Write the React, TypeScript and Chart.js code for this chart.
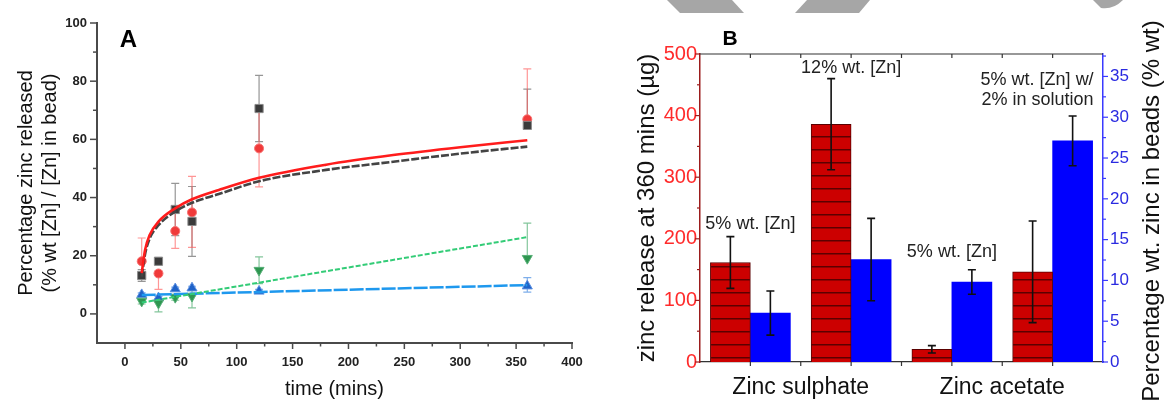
import React, { useEffect, useRef } from 'react';
import { Chart, registerables } from 'chart.js';

Chart.register(...registerables);

const FONT = "'Liberation Sans', Arial, Helvetica, sans-serif";

// ---------------- Panel A : release over time ----------------
const sampleTimes = [15, 30, 45, 60, 120, 360];

const squareSeries = [13.2, 18.1, 35.9, 31.8, 70.6, 64.8];
const squareErrUp = [2, 0, 9, 12, 11.4, 12.5];
const squareErrDown = [2, 0, 9, 12, 11.4, 0];

const circleSeries = [18.1, 13.9, 28.5, 34.9, 56.9, 66.9];
const circleErrUp = [8, 0, 7, 12.4, 13.2, 17.3];
const circleErrDown = [0, 5.5, 6, 12, 13.2, 0];

const downTriSeries = [4.4, 3.7, 5.7, 6.1, 15.0, 19.1];
const downTriErrUp = [0, 0, 1, 2, 4.6, 12.1];
const downTriErrDown = [1, 3, 1, 4, 4.6, 0];

const upTriSeries = [6.6, 5.5, 8.6, 8.9, 7.8, 9.6];
const upTriErrUp = [0.6, 0.5, 0.6, 0.6, 0.6, 2.9];
const upTriErrDown = [0.6, 0.5, 0.6, 0.6, 0.6, 2.1];

// fitted curves
const curveTimes = [15, 18, 22, 30, 45, 60, 84, 120, 180, 240, 300, 360];
const circleFit = [14, 22, 27, 31.7, 36.3, 39.4, 42.6, 46.8, 51.3, 54.6, 57.3, 59.7];
const squareFit = [12.8, 20.5, 25.8, 30.5, 35.2, 38.2, 41.2, 45.6, 49.5, 52.3, 55.1, 57.5];
const lineTimes = [15, 360];
const downTriFit = [3.9, 26.4];
const upTriFit = [6.5, 9.9];

// ---------------- Panel B : release at 360 mins ----------------
const categories = ['Zinc sulphate', 'Zinc acetate'];
const groupNotes = [['5% wt. [Zn]'], ['12% wt. [Zn]'], ['5% wt. [Zn]'], ['5% wt. [Zn] w/', '2% in solution']];
const releaseUg = [161.5, 386, 20.6, 146.5];
const releaseErr = [42, 74, 6, 82.5];
const zincInBeads = [6.0, 12.55, 9.8, 27.1];
const zincInBeadsErr = [2.7, 5.05, 1.5, 3.05];

const pts = (xs: number[], ys: number[]) => xs.map((x, i) => ({ x, y: ys[i] }));
const groupPos = (i: number) => 2 * i + 1;

function errorBarPlugin(id: string, hook: string, capHalf: number, lineWidth: number) {
  return {
    id,
    [hook](chart: any) {
      const ctx = chart.ctx;
      chart.data.datasets.forEach((ds: any, di: number) => {
        if (!ds.errUp) return;
        const meta = chart.getDatasetMeta(di);
        const ys = chart.scales[meta.yAxisID];
        ctx.save();
        ctx.strokeStyle = ds.errColor;
        ctx.lineWidth = lineWidth;
        meta.data.forEach((el: any, i: number) => {
          const raw = ds.data[i];
          const v = typeof raw === 'number' ? raw : raw.y;
          const up = ds.errUp[i] || 0;
          const dn = ds.errDown[i] || 0;
          if (!up && !dn) return;
          const x = el.x;
          const yt = ys.getPixelForValue(v + up);
          const yb = ys.getPixelForValue(v - dn);
          ctx.beginPath();
          ctx.moveTo(x, yt);
          ctx.lineTo(x, yb);
          if (up) { ctx.moveTo(x - capHalf, yt); ctx.lineTo(x + capHalf, yt); }
          if (dn) { ctx.moveTo(x - capHalf, yb); ctx.lineTo(x + capHalf, yb); }
          ctx.stroke();
        });
        ctx.restore();
      });
    },
  };
}

function line(ctx: any, x1: number, y1: number, x2: number, y2: number) {
  ctx.beginPath();
  ctx.moveTo(x1, y1);
  ctx.lineTo(x2, y2);
  ctx.stroke();
}

function makeHatch(): any {
  const c = document.createElement('canvas');
  c.width = 8;
  c.height = 13;
  const g = c.getContext('2d');
  if (!g) return '#cc0000';
  g.fillStyle = '#cc0000';
  g.fillRect(0, 0, 8, 13);
  g.fillStyle = '#5c0000';
  g.fillRect(0, 6, 8, 1.5);
  return g.createPattern(c, 'repeat') || '#cc0000';
}

export default function App() {
  const refA = useRef<HTMLCanvasElement | null>(null);
  const refB = useRef<HTMLCanvasElement | null>(null);

  useEffect(() => {
    if (!refA.current || !refB.current) return;

    // ---------- Chart A ----------
    const ticksA = {
      id: 'ticksA',
      afterDraw(chart: any) {
        const { ctx, chartArea: ca, scales } = chart;
        ctx.save();
        ctx.strokeStyle = '#4a4a4a';
        ctx.lineWidth = 1.5;
        scales.x.ticks.forEach((t: any) => {
          if (t.value <= -25) return;
          const p = scales.x.getPixelForValue(t.value);
          line(ctx, p, ca.bottom, p, ca.bottom + (t.value % 50 === 0 ? 6 : 3.5));
        });
        scales.y.ticks.forEach((t: any) => {
          if (t.value <= -10) return;
          const p = scales.y.getPixelForValue(t.value);
          line(ctx, ca.left, p, ca.left - (t.value % 20 === 0 ? 7 : 4), p);
        });
        ctx.fillStyle = '#000';
        ctx.font = `bold 24px ${FONT}`;
        ctx.textAlign = 'center';
        ctx.textBaseline = 'middle';
        ctx.fillText('A', 128.5, 40);
        ctx.restore();
      },
    };

    const fitBase = { showLine: true, pointRadius: 0, pointHoverRadius: 0, fill: false };
    const chartA = new Chart(refA.current, {
      type: 'scatter',
      data: {
        datasets: [
          { ...fitBase, label: 'fit circles', data: pts(curveTimes, circleFit), borderColor: '#ff1c1c', borderWidth: 2.6, cubicInterpolationMode: 'monotone', order: 0 },
          { ...fitBase, label: 'fit squares', data: pts(curveTimes, squareFit), borderColor: '#444444', borderWidth: 2.6, borderDash: [8, 2], cubicInterpolationMode: 'monotone', order: 1 },
          { ...fitBase, label: 'fit down triangles', data: pts(lineTimes, downTriFit), borderColor: '#33cc77', borderWidth: 2, borderDash: [5, 2], order: 2 },
          { ...fitBase, label: 'fit up triangles', data: pts(lineTimes, upTriFit), borderColor: '#1e98ee', borderWidth: 2.5, borderDash: [14, 2], order: 3 },
          {
            label: 'squares', data: pts(sampleTimes, squareSeries), pointStyle: 'rect', pointRadius: 5.8,
            pointBackgroundColor: '#3a3a3a', pointBorderColor: '#8a8a8a', pointBorderWidth: 1, order: 10,
            errUp: squareErrUp, errDown: squareErrDown, errColor: 'rgba(80,80,80,0.6)',
          },
          {
            label: 'circles', data: pts(sampleTimes, circleSeries), pointStyle: 'circle', pointRadius: 4.5,
            pointBackgroundColor: '#f03a3a', pointBorderColor: '#f77070', pointBorderWidth: 1, order: 11,
            errUp: circleErrUp, errDown: circleErrDown, errColor: 'rgba(255,80,80,0.6)',
          },
          {
            label: 'down triangles', data: pts(sampleTimes, downTriSeries), pointStyle: 'triangle', pointRotation: 180, pointRadius: 5.8,
            pointBackgroundColor: '#2e9650', pointBorderColor: '#58b078', pointBorderWidth: 1, order: 12,
            errUp: downTriErrUp, errDown: downTriErrDown, errColor: 'rgba(50,160,90,0.6)',
          },
          {
            label: 'up triangles', data: pts(sampleTimes, upTriSeries), pointStyle: 'triangle', pointRadius: 5.8,
            pointBackgroundColor: '#1f62c8', pointBorderColor: '#5b8ee0', pointBorderWidth: 1, order: 13,
            errUp: upTriErrUp, errDown: upTriErrDown, errColor: 'rgba(40,120,220,0.6)',
          },
        ] as any,
      },
      options: {
        responsive: false,
        animation: false,
        devicePixelRatio: 1,
        layout: { padding: { top: 23, right: 13, left: 0, bottom: 0 } },
        plugins: { legend: { display: false }, tooltip: { enabled: false } },
        scales: {
          x: {
            type: 'linear', min: -25, max: 400,
            afterFit: (s: any) => { s.height = 58; s.paddingLeft = 0; s.paddingRight = 0; },
            grid: { display: false, drawTicks: false },
            border: { color: '#4a4a4a', width: 2 },
            ticks: {
              stepSize: 25, autoSkip: false, maxRotation: 0, padding: 12, color: '#222',
              font: { family: FONT, size: 13, weight: 'bold' },
              callback: (v: any) => (v >= 0 && v % 50 === 0 ? String(v) : ''),
            },
            title: { display: true, text: 'time (mins)', color: '#111', font: { family: FONT, size: 20 }, padding: { top: 0, bottom: 0 } },
          },
          y: {
            type: 'linear', min: -10, max: 100,
            afterFit: (s: any) => { s.width = 97; s.paddingTop = 0; s.paddingBottom = 0; },
            grid: { display: false, drawTicks: false },
            border: { color: '#4a4a4a', width: 2 },
            ticks: {
              stepSize: 10, autoSkip: false, padding: 10, color: '#222',
              font: { family: FONT, size: 13, weight: 'bold' },
              callback: (v: any) => (v >= 0 && v % 20 === 0 ? String(v) : ''),
            },
            title: {
              display: true, text: ['Percentage zinc released', '(% wt [Zn] / [Zn] in bead)'], color: '#111',
              font: { family: FONT, size: 20 }, padding: { top: 14, bottom: 0 },
            },
          },
        },
      } as any,
      plugins: [errorBarPlugin('errA', 'beforeDatasetsDraw', 4, 1.2), ticksA] as any,
    });

    // ---------- Chart B ----------
    const decorB = {
      id: 'decorB',
      afterDraw(chart: any) {
        const { ctx, chartArea: ca, scales } = chart;
        ctx.save();
        // top frame line and tick marks
        ctx.strokeStyle = '#333';
        ctx.lineWidth = 1.2;
        line(ctx, ca.left, ca.top, ca.right, ca.top);
        scales.x.ticks.forEach((t: any) => {
          if (t.value <= 0 || t.value >= 8) return;
          const p = scales.x.getPixelForValue(t.value);
          line(ctx, p, ca.bottom, p, ca.bottom + 4);
          line(ctx, p, ca.top, p, ca.top + 4);
        });
        ctx.strokeStyle = '#9b1c1c';
        scales.y.ticks.forEach((t: any) => {
          const p = scales.y.getPixelForValue(t.value);
          line(ctx, ca.left, p, ca.left - (t.value % 100 === 0 ? 5 : 3), p);
        });
        ctx.strokeStyle = '#3a3aff';
        scales.y1.ticks.forEach((t: any) => {
          const p = scales.y1.getPixelForValue(t.value);
          line(ctx, ca.right, p, ca.right + (t.value % 5 === 0 ? 5 : 3), p);
        });

        // notes above bar groups
        const noteY = [224, 477, 179, 458];
        ctx.fillStyle = '#222';
        ctx.font = `18px ${FONT}`;
        ctx.textBaseline = 'middle';
        const blueMeta = chart.getDatasetMeta(1);
        groupNotes.forEach((lines, i) => {
          const yp = scales.y.getPixelForValue(noteY[i]);
          if (lines.length > 1) {
            const el = blueMeta.data[i];
            ctx.textAlign = 'right';
            lines.forEach((s, k) => ctx.fillText(s, el.x + el.width / 2 + 1, yp + k * 20));
          } else {
            ctx.textAlign = 'center';
            ctx.fillText(lines[0], scales.x.getPixelForValue(groupPos(i)), yp);
          }
        });

        // right axis title (reads bottom to top)
        ctx.save();
        ctx.translate(567, 211);
        ctx.rotate(-Math.PI / 2);
        ctx.fillStyle = '#111';
        ctx.font = `24px ${FONT}`;
        ctx.textAlign = 'center';
        ctx.textBaseline = 'middle';
        ctx.fillText('Percentage wt. zinc in beads (% wt)', 0, 0);
        ctx.restore();

        // panel letter
        ctx.fillStyle = '#000';
        ctx.font = `bold 21px ${FONT}`;
        ctx.textAlign = 'center';
        ctx.textBaseline = 'middle';
        ctx.fillText('B', 145, 39);

        // grey page decorations at the top edge
        ctx.fillStyle = '#a6a6a6';
        const polys = [
          [[82, 0], [147, 0], [159, 13], [95, 13]],
          [[222, 0], [285, 0], [274, 13], [210, 13]],
        ];
        polys.forEach((pg) => {
          ctx.beginPath();
          pg.forEach(([x, y], k) => (k ? ctx.lineTo(x, y) : ctx.moveTo(x, y)));
          ctx.closePath();
          ctx.fill();
        });
        ctx.beginPath();
        ctx.moveTo(508, 0);
        ctx.lineTo(538, 0);
        ctx.quadraticCurveTo(528, 10, 516, 8);
        ctx.closePath();
        ctx.fill();
        ctx.restore();
      },
    };

    const chartB = new Chart(refB.current, {
      type: 'bar',
      data: {
        datasets: [
          {
            label: 'zinc release at 360 mins (µg)',
            data: releaseUg.map((y, i) => ({ x: groupPos(i), y })),
            yAxisID: 'y', backgroundColor: makeHatch(), borderColor: '#5a0000', borderWidth: 1, barThickness: 40,
            errUp: releaseErr, errDown: releaseErr, errColor: '#111',
          },
          {
            label: 'Percentage wt. zinc in beads (% wt)',
            data: zincInBeads.map((y, i) => ({ x: groupPos(i), y })),
            yAxisID: 'y1', backgroundColor: '#0000ff', borderWidth: 0, barThickness: 40,
            errUp: zincInBeadsErr, errDown: zincInBeadsErr, errColor: '#111',
          },
        ] as any,
      },
      options: {
        responsive: false,
        animation: false,
        devicePixelRatio: 1,
        layout: { padding: { top: 54, right: 0, left: 0, bottom: 0 } },
        plugins: { legend: { display: false }, tooltip: { enabled: false } },
        scales: {
          x: {
            type: 'linear', min: 0, max: 8, offset: false,
            afterFit: (s: any) => { s.height = 39; s.paddingLeft = 0; s.paddingRight = 0; },
            grid: { display: false, drawTicks: false, offset: false },
            border: { color: '#333', width: 1.2 },
            ticks: {
              stepSize: 1, autoSkip: false, maxRotation: 0, padding: 12, color: '#111',
              font: { family: FONT, size: 23 },
              callback: (v: any) => {
                const k = (v - 2) / 4;
                return Number.isInteger(k) && categories[k] ? categories[k] : '';
              },
            },
          },
          y: {
            type: 'linear', position: 'left', min: 0, max: 500,
            afterFit: (s: any) => { s.width = 115; s.paddingTop = 0; s.paddingBottom = 0; },
            grid: { display: false, drawTicks: false },
            border: { color: '#9b1c1c', width: 1.5 },
            ticks: {
              stepSize: 50, autoSkip: false, padding: 3, color: '#ff2b2b',
              font: { family: FONT, size: 20 },
              callback: (v: any) => (v % 100 === 0 ? String(v) : ''),
            },
            title: {
              display: true, text: 'zinc release at 360 mins (µg)', color: '#111',
              font: { family: FONT, size: 24 }, padding: { top: 47.6, bottom: 0 },
            },
          },
          y1: {
            type: 'linear', position: 'right', min: 0, max: 37.75,
            afterFit: (s: any) => { s.width = 62; s.paddingTop = 0; s.paddingBottom = 0; },
            grid: { display: false, drawTicks: false },
            border: { color: '#3a3aff', width: 1.5 },
            ticks: {
              stepSize: 2.5, includeBounds: false, autoSkip: false, padding: 7, color: '#2a2ae0',
              font: { family: FONT, size: 17 },
              callback: (v: any) => (v % 5 === 0 ? String(v) : ''),
            },
          },
        },
      } as any,
      plugins: [errorBarPlugin('errB', 'afterDatasetsDraw', 4, 1.6), decorB] as any,
    });

    return () => {
      chartA.destroy();
      chartB.destroy();
    };
  }, []);

  return (
    <div style={{ position: 'absolute', left: 0, top: 0, width: 1165, height: 401, background: '#fff', overflow: 'hidden' }}>
      <canvas ref={refA} width={585} height={401} style={{ position: 'absolute', left: 0, top: 0 }} />
      <canvas ref={refB} width={580} height={401} style={{ position: 'absolute', left: 585, top: 0 }} />
    </div>
  );
}
